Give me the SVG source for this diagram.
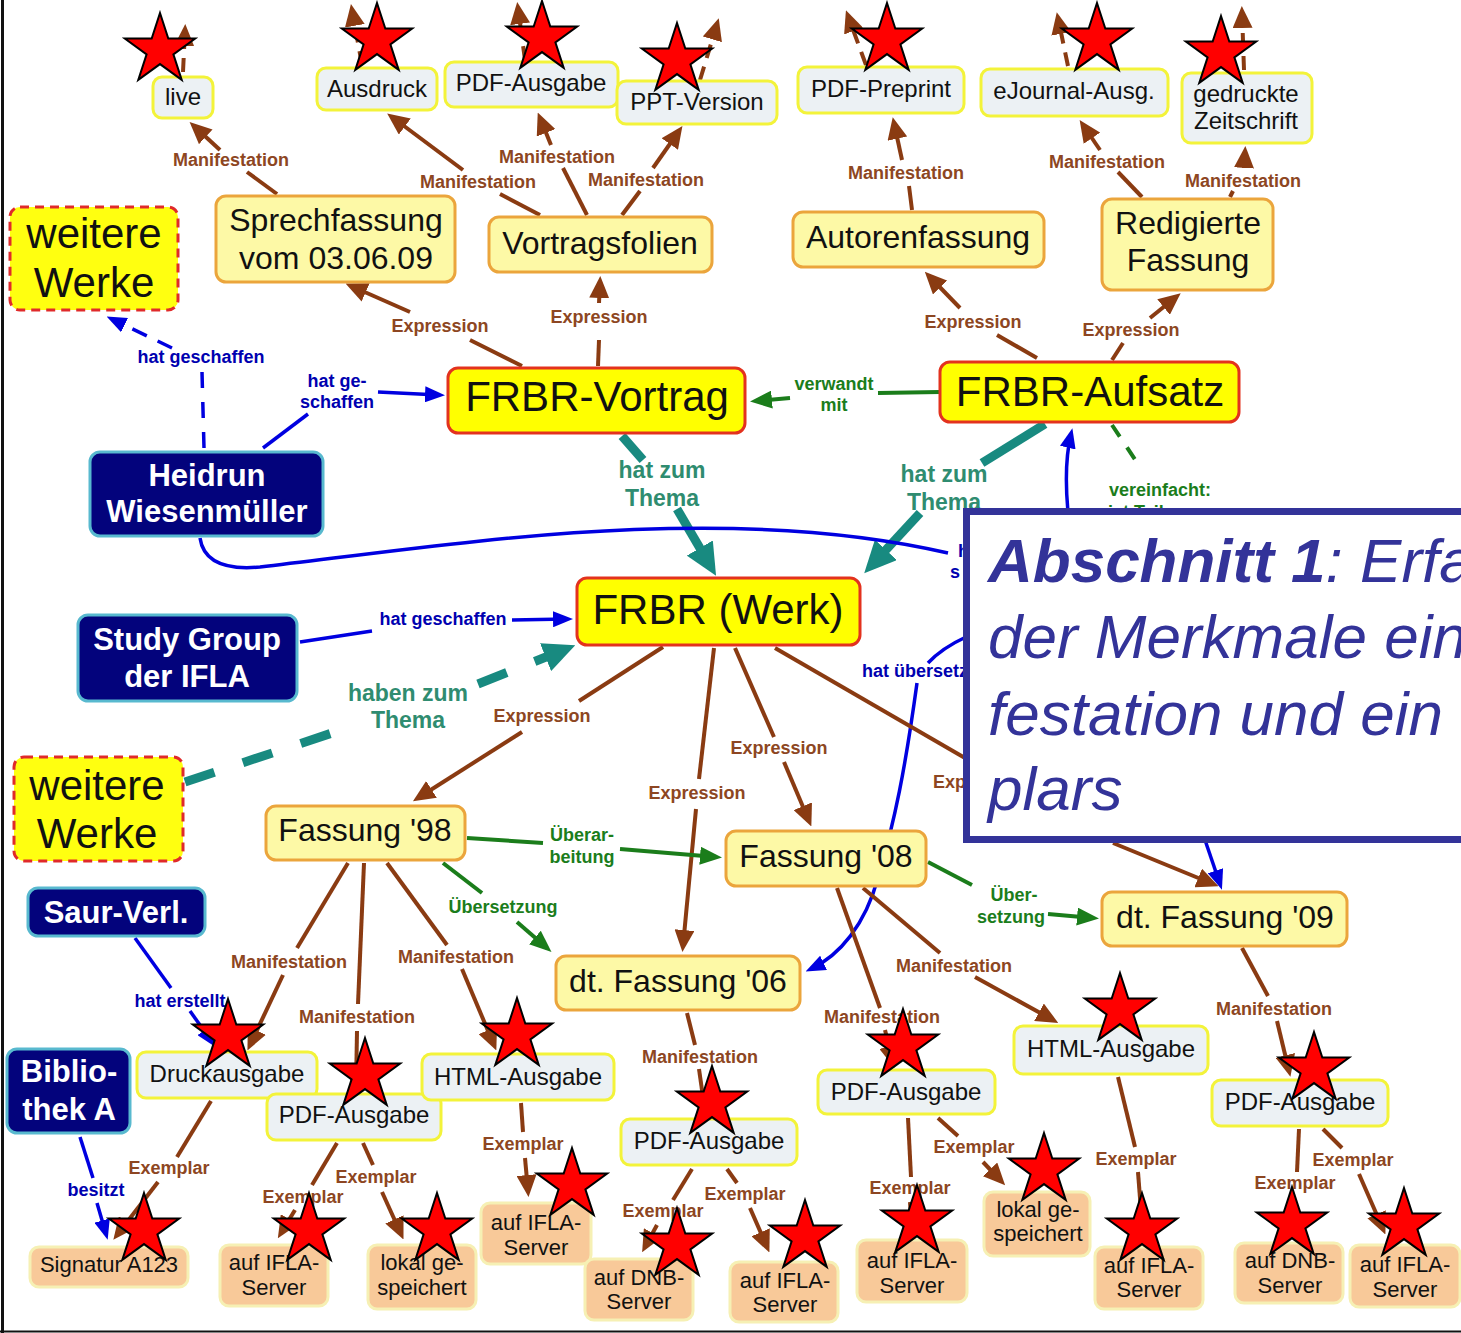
<svg xmlns="http://www.w3.org/2000/svg" xmlns:xlink="http://www.w3.org/1999/xlink" width="1461" height="1333" viewBox="0 0 1461 1333">
<style>
.br{fill:none;stroke:#8a3b12;stroke-width:4}
.bu{fill:none;stroke:#0000e0;stroke-width:3.5}
.gr{fill:none;stroke:#1b7d1b;stroke-width:4}
.te{fill:none;stroke:#188a80;stroke-width:9}
.ar{marker-end:url(#mb)}
.au{marker-end:url(#mu)}
.ag{marker-end:url(#mg)}
.at{marker-end:url(#mt)}
.l{font-family:"Liberation Sans",Arial,sans-serif;font-weight:bold;font-size:18px;text-anchor:middle}
.st{text-anchor:start}
.lb{fill:#8d4622}
.lu{fill:#0000b0}
.lg{fill:#1b7d1b}
.lt{fill:#2f8c70;font-size:23px}
.n{font-family:"Liberation Sans",Arial,sans-serif;text-anchor:middle;fill:#111}
.s22{font-size:22px}
.s24{font-size:24px}
.s32{font-size:32px}
.s42{font-size:42px}
.w{fill:#fff;font-weight:bold;font-size:31px}
.rm{fill:#ecf1f4;stroke:#f3f33a;stroke-width:3}
.rx{fill:#f8c999;stroke:#f6f0b4;stroke-width:3}
.re{fill:#fdf9a6;stroke:#eba53c;stroke-width:3}
.rw{fill:#ffff00;stroke:#e3321e;stroke-width:3}
.rd{fill:#ffff10;stroke:#e02a2a;stroke-width:3;stroke-dasharray:9 6}
.rn{fill:#03037c;stroke:#58b9cf;stroke-width:3}
.star{fill:#ff0000;stroke:#000;stroke-width:2}
.abs{font-family:"Liberation Sans",Arial,sans-serif;font-style:italic;font-size:62px;fill:#333399}
</style>
<defs>
<marker id="mb" viewBox="0 0 22 20" markerUnits="userSpaceOnUse" markerWidth="22" markerHeight="20" refX="16" refY="10" orient="auto"><path d="M0,0 L22,10 L0,20 z" fill="#8a3b12"/></marker>
<marker id="mu" viewBox="0 0 20 16" markerUnits="userSpaceOnUse" markerWidth="20" markerHeight="16" refX="14" refY="8" orient="auto"><path d="M0,0 L20,8 L0,16 z" fill="#0000e0"/></marker>
<marker id="mg" viewBox="0 0 22 18" markerUnits="userSpaceOnUse" markerWidth="22" markerHeight="18" refX="16" refY="9" orient="auto"><path d="M0,0 L22,9 L0,18 z" fill="#1b7d1b"/></marker>
<marker id="mt" viewBox="0 0 32 30" markerUnits="userSpaceOnUse" markerWidth="32" markerHeight="30" refX="22" refY="15" orient="auto"><path d="M0,0 L32,15 L0,30 z" fill="#188a80"/></marker>
<polygon id="star" class="star" points="0,-37 8.3,-11.4 35.2,-11.4 13.4,4.4 21.7,29.9 0,14.1 -21.7,29.9 -13.4,4.4 -35.2,-11.4 -8.3,-11.4"/>
</defs>
<rect x="0" y="0" width="1461" height="1333" fill="#ffffff"/>
<line x1="2.5" y1="0" x2="2.5" y2="1333" stroke="#111" stroke-width="3"/>
<line x1="0" y1="1331.5" x2="1461" y2="1331.5" stroke="#111" stroke-width="2"/>

<g id="connectors">
<path class="br ar" stroke-dasharray="14 9" d="M183,72 L185,30"/>
<path class="br ar" stroke-dasharray="14 9" d="M362,65 L352,10"/>
<path class="br ar" stroke-dasharray="14 9" d="M525,60 L518,8"/>
<path class="br ar" stroke-dasharray="14 9" d="M700,80 L717,24"/>
<path class="br ar" stroke-dasharray="14 9" d="M866,65 L848,16"/>
<path class="br ar" stroke-dasharray="14 9" d="M1068,66 L1058,18"/>
<path class="br ar" stroke-dasharray="14 9" d="M1244,70 L1242,12"/>
<path class="br" d="M277,194 L247,172"/><path class="br ar" d="M220,150 L194,126"/>
<text class="l lb" x="231" y="166">Manifestation</text>
<path class="br" d="M540,215 L500,194"/><path class="br ar" d="M463,170 L392,117"/>
<text class="l lb" x="478" y="188">Manifestation</text>
<path class="br" d="M587,215 L563,168"/><path class="br ar" d="M551,145 L540,118"/>
<text class="l lb" x="557" y="163">Manifestation</text>
<path class="br" d="M622,215 L640,191"/><path class="br ar" d="M653,168 L679,131"/>
<text class="l lb" x="646" y="186">Manifestation</text>
<path class="br" d="M912,210 L909,186"/><path class="br ar" d="M902,160 L894,123"/>
<text class="l lb" x="906" y="179">Manifestation</text>
<path class="br" d="M1142,197 L1118,172"/><path class="br ar" d="M1100,150 L1083,125"/>
<text class="l lb" x="1107" y="168">Manifestation</text>
<path class="br" d="M1230,197 L1233,191"/><path class="br ar" d="M1244,168 L1245,152"/>
<text class="l lb" x="1243" y="187">Manifestation</text>
<path class="br" d="M522,366 L470,340"/><path class="br ar" d="M410,312 L351,286"/>
<text class="l lb" x="440" y="332">Expression</text>
<path class="br" d="M598,366 L599,340"/><path class="br ar" d="M599,303 L600,282"/>
<text class="l lb" x="599" y="323">Expression</text>
<path class="br" d="M1037,358 L997,335"/><path class="br ar" d="M960,308 L929,276"/>
<text class="l lb" x="973" y="328">Expression</text>
<path class="br" d="M1112,360 L1123,343"/><path class="br ar" d="M1150,318 L1176,297"/>
<text class="l lb" x="1131" y="336">Expression</text>
<path class="gr" d="M940,392 L878,393"/><path class="gr ag" d="M790,398 L756,401"/>
<text class="l lg" x="834" y="390">verwandt</text><text class="l lg" x="834" y="411">mit</text>
<path class="gr" stroke-dasharray="14 13" d="M1112,425 L1140,467"/>
<text class="l lg" x="1160" y="496">vereinfacht:</text>
<text class="l lg st" x="1108" y="518">ist Teil</text>
<path class="te" d="M622,436 L643,460"/><path class="te at" d="M677,509 L711,567"/>
<text class="l lt" x="662" y="478">hat zum</text><text class="l lt" x="662" y="506">Thema</text>
<path class="te" d="M1045,424 L982,463"/><path class="te at" d="M920,513 L871,566"/>
<text class="l lt" x="944" y="482">hat zum</text><text class="l lt" x="944" y="510">Thema</text>
<path class="te" stroke-dasharray="31 30" d="M185,782 L338,731"/>
<path class="te at" stroke-dasharray="31 30" d="M478,684 L566,649"/>
<text class="l lt" x="408" y="701">haben zum</text><text class="l lt" x="408" y="728">Thema</text>
<path class="bu" stroke-dasharray="16 14" d="M204,448 L202,372"/>
<path class="bu au" stroke-dasharray="16 12" d="M172,348 L112,319"/>
<text class="l lu" x="201" y="363">hat geschaffen</text>
<path class="bu" d="M263,448 L308,414"/><path class="bu au" d="M378,392 L439,395"/>
<text class="l lu" x="337" y="387">hat ge-</text><text class="l lu" x="337" y="408">schaffen</text>
<path class="bu" d="M200,538 Q205,572 260,567 C450,545 720,500 948,553"/>
<text class="l lu st" x="958" y="557">h</text><text class="l lu st" x="950" y="578">s</text>
<path class="bu au" d="M1068,512 C1065,480 1066,455 1071,434"/>
<path class="bu" d="M300,642 L372,631"/><path class="bu au" d="M512,620 L567,619"/>
<text class="l lu" x="443" y="625">hat geschaffen</text>
<path class="bu" d="M966,637 Q942,648 928,663"/>
<text class="l lu st" x="862" y="677">hat übersetzt</text>
<path class="bu au" d="M917,683 C905,770 895,820 878,878 C865,925 840,955 811,969"/>
<path class="bu au" d="M1205,840 L1220,884"/>
<path class="bu" d="M135,938 L171,988"/><path class="bu au" d="M190,1011 L212,1042"/>
<text class="l lu" x="180" y="1007">hat erstellt</text>
<path class="bu" d="M80,1137 L93,1178"/><path class="bu au" d="M97,1203 L106,1234"/>
<text class="l lu" x="96" y="1196">besitzt</text>
<path class="br" d="M663,647 L579,701"/><path class="br ar" d="M522,732 L418,798"/>
<text class="l lb" x="542" y="722">Expression</text>
<path class="br" d="M714,648 L699,779"/><path class="br ar" d="M696,809 L683,946"/>
<text class="l lb" x="697" y="799">Expression</text>
<path class="br" d="M735,648 L774,737"/><path class="br ar" d="M784,762 L809,821"/>
<text class="l lb" x="779" y="754">Expression</text>
<path class="br" d="M775,648 L965,758"/><path class="br ar" d="M1113,843 L1213,884"/>
<text class="l lb st" x="933" y="788">Exp</text>
<path class="br" d="M348,863 L297,948"/><path class="br ar" d="M283,975 L250,1045"/>
<text class="l lb" x="289" y="968">Manifestation</text>
<path class="br" d="M364,863 L358,1004"/><path class="br ar" d="M357,1031 L356,1087"/>
<text class="l lb" x="357" y="1023">Manifestation</text>
<path class="br" d="M387,863 L447,945"/><path class="br ar" d="M462,969 L494,1045"/>
<text class="l lb" x="456" y="963">Manifestation</text>
<path class="gr" d="M467,838 L543,843"/><path class="gr ag" d="M620,849 L716,857"/>
<text class="l lg" x="582" y="841">Überar-</text><text class="l lg" x="582" y="863">beitung</text>
<path class="gr" d="M443,863 L482,893"/><path class="gr ag" d="M517,922 L547,948"/>
<text class="l lg" x="503" y="913">Übersetzung</text>
<path class="gr" d="M928,862 L972,885"/><path class="gr ag" d="M1048,914 L1093,918"/>
<text class="l lg" x="1014" y="901">Über-</text><text class="l lg" x="1011" y="923">setzung</text>
<path class="br" d="M837,888 L880,1008"/><path class="br ar" d="M885,1030 L893,1062"/>
<text class="l lb" x="882" y="1023">Manifestation</text>
<path class="br" d="M863,888 L940,953"/><path class="br ar" d="M975,977 L1053,1020"/>
<text class="l lb" x="954" y="972">Manifestation</text>
<path class="br" d="M687,1013 L695,1045"/><path class="br ar" d="M699,1069 L705,1111"/>
<text class="l lb" x="700" y="1063">Manifestation</text>
<path class="br" d="M1242,948 L1268,996"/><path class="br ar" d="M1277,1021 L1289,1071"/>
<text class="l lb" x="1274" y="1015">Manifestation</text>
<path class="br" d="M211,1101 L177,1157"/><path class="br ar" d="M158,1182 L117,1235"/>
<text class="l lb" x="169" y="1174">Exemplar</text>
<path class="br" d="M337,1143 L312,1185"/><path class="br ar" d="M295,1210 L281,1233"/>
<text class="l lb" x="303" y="1203">Exemplar</text>
<path class="br" d="M363,1143 L373,1165"/><path class="br ar" d="M382,1192 L401,1234"/>
<text class="l lb" x="376" y="1183">Exemplar</text>
<path class="br" d="M521,1103 L523,1132"/><path class="br ar" d="M525,1158 L528,1191"/>
<text class="l lb" x="523" y="1150">Exemplar</text>
<path class="br" d="M692,1169 L673,1200"/><path class="br ar" d="M657,1225 L645,1247"/>
<text class="l lb" x="663" y="1217">Exemplar</text>
<path class="br" d="M727,1169 L737,1183"/><path class="br ar" d="M750,1208 L767,1247"/>
<text class="l lb" x="745" y="1200">Exemplar</text>
<path class="br" d="M908,1118 L911,1177"/><path class="br ar" d="M910,1202 L912,1232"/>
<text class="l lb" x="910" y="1194">Exemplar</text>
<path class="br" d="M938,1118 L958,1136"/><path class="br ar" d="M983,1162 L1001,1181"/>
<text class="l lb" x="974" y="1153">Exemplar</text>
<path class="br" d="M1118,1077 L1135,1147"/><path class="br ar" d="M1138,1172 L1143,1237"/>
<text class="l lb" x="1136" y="1165">Exemplar</text>
<path class="br" d="M1299,1129 L1297,1172"/><path class="br ar" d="M1294,1197 L1293,1234"/>
<text class="l lb" x="1295" y="1189">Exemplar</text>
<path class="br" d="M1323,1129 L1342,1148"/><path class="br ar" d="M1359,1174 L1383,1229"/>
<text class="l lb" x="1353" y="1166">Exemplar</text>
</g>

<g id="n-live"><rect class="rm" x="153" y="77" width="60" height="41" rx="9"/><text class="n s24" x="183" y="105">live</text></g>
<g id="n-ausdruck"><rect class="rm" x="317" y="68" width="120" height="42" rx="9"/><text class="n s24" x="377" y="97">Ausdruck</text></g>
<g id="n-pdf-top"><rect class="rm" x="445" y="62" width="173" height="45" rx="9"/><text class="n s24" x="531" y="91">PDF-Ausgabe</text></g>
<g id="n-ppt"><rect class="rm" x="617" y="81" width="160" height="43" rx="9"/><text class="n s24" x="697" y="110">PPT-Version</text></g>
<g id="n-preprint"><rect class="rm" x="798" y="67" width="166" height="46" rx="9"/><text class="n s24" x="881" y="97">PDF-Preprint</text></g>
<g id="n-ejournal"><rect class="rm" x="981" y="69" width="187" height="47" rx="9"/><text class="n s24" x="1074" y="99">eJournal-Ausg.</text></g>
<g id="n-zeitschrift"><rect class="rm" x="1182" y="73" width="130" height="70" rx="9"/><text class="n s24" x="1246" y="102">gedruckte</text><text class="n s24" x="1246" y="129">Zeitschrift</text></g>

<g id="n-sprechfassung"><rect class="re" x="216" y="196" width="239" height="86" rx="10"/><text class="n s32" x="336" y="231">Sprechfassung</text><text class="n s32" x="336" y="269">vom 03.06.09</text></g>
<g id="n-vortragsfolien"><rect class="re" x="489" y="217" width="223" height="55" rx="10"/><text class="n s32" x="600" y="254">Vortragsfolien</text></g>
<g id="n-autorenfassung"><rect class="re" x="793" y="212" width="251" height="55" rx="10"/><text class="n s32" x="918" y="248">Autorenfassung</text></g>
<g id="n-redigierte"><rect class="re" x="1102" y="199" width="171" height="91" rx="10"/><text class="n s32" x="1188" y="234">Redigierte</text><text class="n s32" x="1188" y="271">Fassung</text></g>

<g id="n-weitere1"><rect class="rd" x="10" y="207" width="168" height="103" rx="10"/><text class="n s42" x="94" y="248">weitere</text><text class="n s42" x="94" y="297">Werke</text></g>
<g id="n-vortrag"><rect class="rw" x="448" y="368" width="297" height="65" rx="10"/><text class="n s42" x="597" y="411">FRBR-Vortrag</text></g>
<g id="n-aufsatz"><rect class="rw" x="940" y="362" width="299" height="60" rx="10"/><text class="n s42" x="1090" y="406">FRBR-Aufsatz</text></g>
<g id="n-heidrun"><rect class="rn" x="90" y="452" width="233" height="84" rx="10"/><text class="n w" x="207" y="486">Heidrun</text><text class="n w" x="207" y="522">Wiesenmüller</text></g>
<g id="n-werk"><rect class="rw" x="577" y="578" width="283" height="67" rx="10"/><text class="n s42" x="718" y="624">FRBR (Werk)</text></g>
<g id="n-studygroup"><rect class="rn" x="78" y="615" width="219" height="86" rx="10"/><text class="n w" x="187" y="650">Study Group</text><text class="n w" x="187" y="687">der IFLA</text></g>
<g id="n-weitere2"><rect class="rd" x="14" y="757" width="169" height="104" rx="10"/><text class="n s42" x="97" y="800">weitere</text><text class="n s42" x="97" y="848">Werke</text></g>
<g id="n-saur"><rect class="rn" x="28" y="888" width="177" height="48" rx="10"/><text class="n w" x="116" y="923">Saur-Verl.</text></g>
<g id="n-bibliothek"><rect class="rn" x="7" y="1049" width="123" height="84" rx="10"/><text class="n w" x="69" y="1082">Biblio-</text><text class="n w" x="69" y="1120">thek A</text></g>

<g id="n-f98"><rect class="re" x="266" y="806" width="199" height="54" rx="10"/><text class="n s32" x="365" y="841">Fassung '98</text></g>
<g id="n-f08"><rect class="re" x="726" y="831" width="200" height="55" rx="10"/><text class="n s32" x="826" y="867">Fassung '08</text></g>
<g id="n-dt09"><rect class="re" x="1102" y="892" width="245" height="54" rx="10"/><text class="n s32" x="1225" y="928">dt. Fassung '09</text></g>
<g id="n-dt06"><rect class="re" x="556" y="956" width="244" height="54" rx="10"/><text class="n s32" x="678" y="992">dt. Fassung '06</text></g>

<g id="n-druck"><rect class="rm" x="137" y="1052" width="180" height="46" rx="9"/><text class="n s24" x="227" y="1082">Druckausgabe</text></g>
<g id="n-pdf-l"><rect class="rm" x="267" y="1094" width="174" height="46" rx="9"/><text class="n s24" x="354" y="1123">PDF-Ausgabe</text></g>
<g id="n-html-l"><rect class="rm" x="422" y="1054" width="192" height="46" rx="9"/><text class="n s24" x="518" y="1085">HTML-Ausgabe</text></g>
<g id="n-pdf-m"><rect class="rm" x="621" y="1119" width="176" height="46" rx="9"/><text class="n s24" x="709" y="1149">PDF-Ausgabe</text></g>
<g id="n-pdf-f08"><rect class="rm" x="818" y="1070" width="177" height="44" rx="9"/><text class="n s24" x="906" y="1100">PDF-Ausgabe</text></g>
<g id="n-html-r"><rect class="rm" x="1014" y="1026" width="194" height="48" rx="9"/><text class="n s24" x="1111" y="1057">HTML-Ausgabe</text></g>
<g id="n-pdf-r"><rect class="rm" x="1212" y="1080" width="176" height="46" rx="9"/><text class="n s24" x="1300" y="1110">PDF-Ausgabe</text></g>

<g id="n-signatur"><rect class="rx" x="30" y="1247" width="158" height="40" rx="9"/><text class="n s22" x="109" y="1272">Signatur A123</text></g>
<g id="n-ifla1"><rect class="rx" x="220" y="1245" width="108" height="61" rx="9"/><text class="n s22" x="274" y="1270">auf IFLA-</text><text class="n s22" x="274" y="1295">Server</text></g>
<g id="n-lokal1"><rect class="rx" x="368" y="1245" width="108" height="64" rx="9"/><text class="n s22" x="422" y="1270">lokal ge-</text><text class="n s22" x="422" y="1295">speichert</text></g>
<g id="n-ifla2"><rect class="rx" x="481" y="1203" width="110" height="61" rx="9"/><text class="n s22" x="536" y="1230">auf IFLA-</text><text class="n s22" x="536" y="1255">Server</text></g>
<g id="n-dnb1"><rect class="rx" x="585" y="1259" width="108" height="61" rx="9"/><text class="n s22" x="639" y="1285">auf DNB-</text><text class="n s22" x="639" y="1309">Server</text></g>
<g id="n-ifla3"><rect class="rx" x="730" y="1262" width="108" height="60" rx="9"/><text class="n s22" x="785" y="1288">auf IFLA-</text><text class="n s22" x="785" y="1312">Server</text></g>
<g id="n-ifla4"><rect class="rx" x="857" y="1240" width="110" height="62" rx="9"/><text class="n s22" x="912" y="1268">auf IFLA-</text><text class="n s22" x="912" y="1293">Server</text></g>
<g id="n-lokal2"><rect class="rx" x="984" y="1192" width="106" height="64" rx="9"/><text class="n s22" x="1038" y="1217">lokal ge-</text><text class="n s22" x="1038" y="1241">speichert</text></g>
<g id="n-ifla5"><rect class="rx" x="1095" y="1247" width="108" height="62" rx="9"/><text class="n s22" x="1149" y="1273">auf IFLA-</text><text class="n s22" x="1149" y="1297">Server</text></g>
<g id="n-dnb2"><rect class="rx" x="1235" y="1243" width="108" height="60" rx="9"/><text class="n s22" x="1290" y="1268">auf DNB-</text><text class="n s22" x="1290" y="1293">Server</text></g>
<g id="n-ifla6"><rect class="rx" x="1350" y="1245" width="110" height="62" rx="9"/><text class="n s22" x="1405" y="1272">auf IFLA-</text><text class="n s22" x="1405" y="1297">Server</text></g>

<g id="n-abschnitt">
<rect x="966.5" y="511.5" width="600" height="328" fill="#ffffff" stroke="#333399" stroke-width="7"/>
<text class="abs" x="988" y="582"><tspan font-weight="bold">Abschnitt 1</tspan>: Erfa</text>
<text class="abs" x="988" y="658">der Merkmale ein</text>
<text class="abs" x="988" y="735">festation und ein</text>
<text class="abs" x="988" y="810">plars</text>
</g>

<g id="stars">
<use xlink:href="#star" x="160" y="50"/>
<use xlink:href="#star" x="377" y="40"/>
<use xlink:href="#star" x="542" y="38"/>
<use xlink:href="#star" x="677" y="60"/>
<use xlink:href="#star" x="887" y="40"/>
<use xlink:href="#star" x="1097" y="40"/>
<use xlink:href="#star" x="1221" y="53"/>
<use xlink:href="#star" x="228" y="1036"/>
<use xlink:href="#star" x="365" y="1075"/>
<use xlink:href="#star" x="517" y="1035"/>
<use xlink:href="#star" x="144" y="1230"/>
<use xlink:href="#star" x="309" y="1230"/>
<use xlink:href="#star" x="437" y="1230"/>
<use xlink:href="#star" x="572" y="1185"/>
<use xlink:href="#star" x="712" y="1103"/>
<use xlink:href="#star" x="677" y="1245"/>
<use xlink:href="#star" x="805" y="1237"/>
<use xlink:href="#star" x="903" y="1046"/>
<use xlink:href="#star" x="917" y="1222"/>
<use xlink:href="#star" x="1120" y="1010"/>
<use xlink:href="#star" x="1044" y="1170"/>
<use xlink:href="#star" x="1142" y="1230"/>
<use xlink:href="#star" x="1314" y="1069"/>
<use xlink:href="#star" x="1292" y="1224"/>
<use xlink:href="#star" x="1404" y="1225"/>
</g>
</svg>
